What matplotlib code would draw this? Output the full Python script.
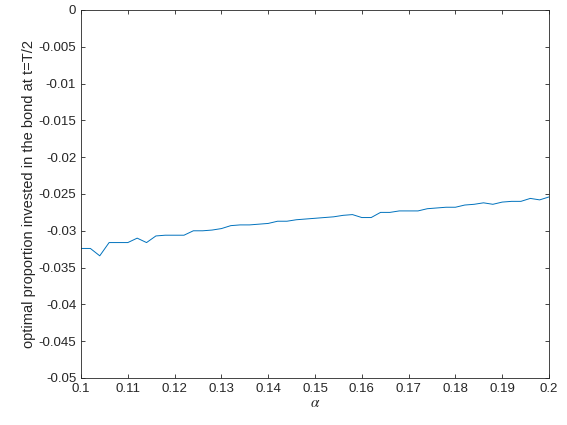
import numpy as np
import matplotlib
matplotlib.use("Agg")
import matplotlib.pyplot as plt

# alpha grid and optimal bond proportion at t=T/2
alpha = np.linspace(0.1, 0.2, 51)
bond_prop = [
    -0.0324, -0.0324, -0.0334, -0.0316, -0.0316, -0.0316, -0.0310, -0.0316,
    -0.0307, -0.0306, -0.0306, -0.0306, -0.0300, -0.0300, -0.0299, -0.0297,
    -0.0293, -0.0292, -0.0292, -0.0291, -0.0290, -0.0287, -0.0287, -0.0285,
    -0.0284, -0.0283, -0.0282, -0.0281, -0.0279, -0.0278, -0.0282, -0.0282,
    -0.0275, -0.0275, -0.0273, -0.0273, -0.0273, -0.0270, -0.0269, -0.0268,
    -0.0268, -0.0265, -0.0264, -0.0262, -0.0264, -0.0261, -0.0260, -0.0260,
    -0.0256, -0.0258, -0.0254,
]
xticks = [0.1, 0.11, 0.12, 0.13, 0.14, 0.15, 0.16, 0.17, 0.18, 0.19, 0.2]
yticks = [-0.05, -0.045, -0.04, -0.035, -0.03, -0.025, -0.02, -0.015, -0.01, -0.005, 0]

plt.rcParams['font.family'] = ['Liberation Sans', 'DejaVu Sans']
plt.rcParams['mathtext.fontset'] = 'stix'
axcol = '#262626'

fig = plt.figure(figsize=(5.67, 4.25), dpi=100)
ax = fig.add_axes([0.1429, 0.1106, 0.8254, 0.8659])

ax.plot(alpha, bond_prop, color='#0072BD', linewidth=0.7)

ax.set_xlim(0.1, 0.2)
ax.set_ylim(-0.05, 0)
ax.set_xticks(xticks)
ax.set_xticklabels([f"{t:g}" for t in xticks])
ax.set_yticks(yticks)
ax.set_yticklabels([f"{t:g}" for t in yticks])

ax.tick_params(direction='in', length=3, width=0.6, colors=axcol,
               labelsize=9.5, top=True, right=True, labeltop=False, labelright=False)
for s in ax.spines.values():
    s.set_linewidth(0.6)
    s.set_color(axcol)

ax.set_xlabel(r'$\alpha$', fontsize=11, color=axcol, labelpad=1)
ax.set_ylabel('optimal proportion invested in the bond at t=T/2', fontsize=10.5,
              color=axcol, labelpad=2)

fig.savefig('out.png', dpi=100)
